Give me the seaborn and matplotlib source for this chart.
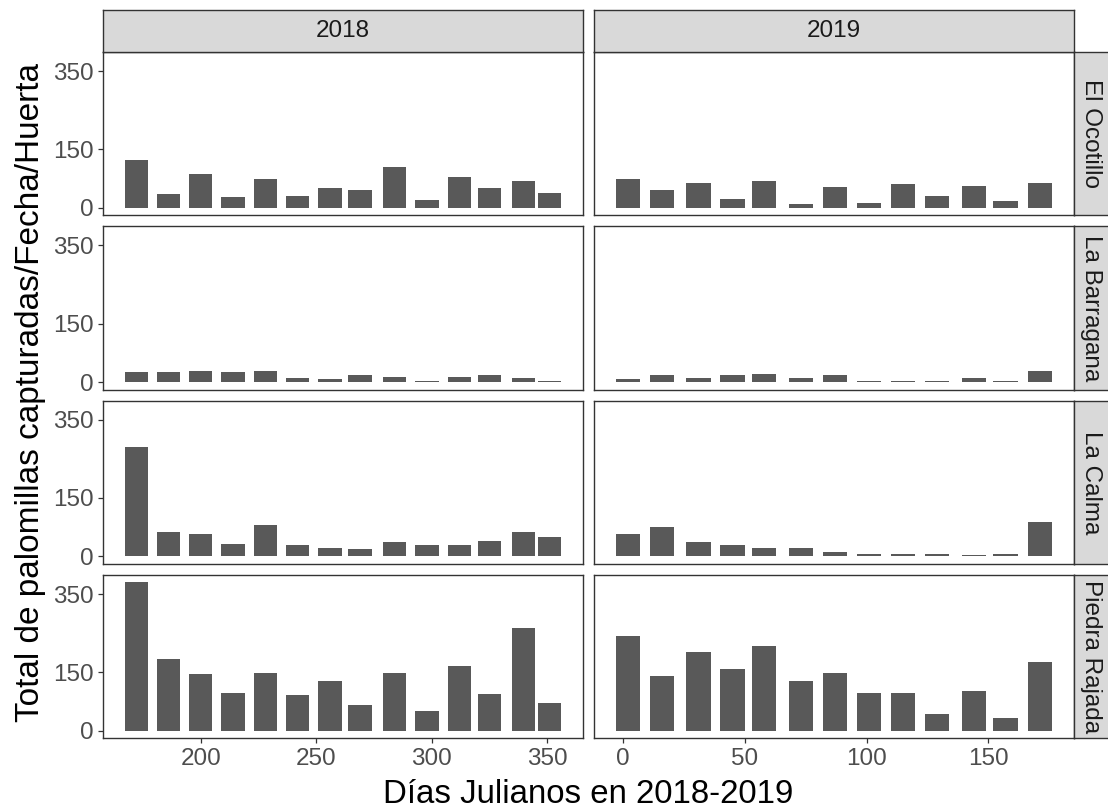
import numpy as np
import pandas as pd
import matplotlib
matplotlib.use("Agg")
import matplotlib.pyplot as plt
import seaborn as sns

# --- data -------------------------------------------------------------------
huertas = ["El Ocotillo", "La Barragana", "La Calma", "Piedra Rajada"]
anios = ["2018", "2019"]

dias_2018 = [172, 186, 200, 214, 228, 242, 256, 269, 284, 298, 312, 325, 340, 351]
dias_2019 = [2, 16, 31, 45, 58, 73, 87, 101, 115, 129, 144, 157, 171]

ocotillo_2018 = [123, 35, 87, 28, 75, 31, 51, 46, 105, 21, 80, 51, 68, 39]
ocotillo_2019 = [75, 46, 64, 24, 69, 9, 54, 13, 61, 31, 57, 17, 64]

barragana_2018 = [26, 26, 29, 26, 29, 10, 7, 18, 14, 3, 14, 18, 10, 3]
barragana_2019 = [7, 18, 10, 18, 22, 10, 18, 3, 3, 3, 10, 3, 29]

calma_2018 = [280, 62, 58, 32, 80, 29, 22, 18, 37, 29, 29, 40, 62, 51]
calma_2019 = [58, 76, 37, 29, 22, 22, 11, 7, 7, 7, 3, 7, 87]

piedra_2018 = [380, 184, 145, 97, 148, 91, 127, 65, 148, 51, 166, 94, 264, 72]
piedra_2019 = [242, 141, 202, 158, 217, 127, 148, 97, 97, 43, 101, 32, 177]

ticks_y = [0, 150, 350]
ticks_x = {"2018": [200, 250, 300, 350], "2019": [0, 50, 100, 150]}

valores = {
    ("El Ocotillo", "2018"): ocotillo_2018,
    ("El Ocotillo", "2019"): ocotillo_2019,
    ("La Barragana", "2018"): barragana_2018,
    ("La Barragana", "2019"): barragana_2019,
    ("La Calma", "2018"): calma_2018,
    ("La Calma", "2019"): calma_2019,
    ("Piedra Rajada", "2018"): piedra_2018,
    ("Piedra Rajada", "2019"): piedra_2019,
}
dias = {"2018": dias_2018, "2019": dias_2019}

filas = []
for (h, a), vals in valores.items():
    for d, v in zip(dias[a], vals):
        filas.append({"huerta": h, "anio": a, "dia": d, "total": v})
df = pd.DataFrame(filas)

# --- style ------------------------------------------------------------------
sns.set_theme(style="white")
plt.rcParams["font.family"] = ["Liberation Sans", "DejaVu Sans"]

W, H = 1108, 809
fig = plt.figure(figsize=(W / 100, H / 100), dpi=100)

BAR = "#595959"
BORDER = "#333333"
STRIP = "#D9D9D9"
BAR_DAYS = 10.0

col_x = [102.7, 593.7]
panel_w = 480.0
row_top = 52.0
panel_h = 163.3
gap = 11.0
strip_top = 10.0
strip_right = 1108.0


def fig_rect(x0, y0, w, h):
    return [x0 / W, 1 - (y0 + h) / H, w / W, h / H]


ymax = df["total"].max()
ylim = (-0.05 * ymax, 1.05 * ymax)

for i, h in enumerate(huertas):
    y0 = row_top + i * (panel_h + gap)
    for j, a in enumerate(anios):
        ax = fig.add_axes(fig_rect(col_x[j], y0, panel_w, panel_h))
        sub = df[(df["huerta"] == h) & (df["anio"] == a)]
        d = np.array(dias[a])
        min_step = np.min(np.diff(np.unique(d)))
        sns.barplot(data=sub, x="dia", y="total", native_scale=True,
                    width=BAR_DAYS / min_step, color=BAR, saturation=1,
                    errorbar=None, linewidth=0, ax=ax)
        lo = d.min() - BAR_DAYS / 2
        hi = d.max() + BAR_DAYS / 2
        pad = 0.05 * (hi - lo)
        ax.set_xlim(lo - pad, hi + pad)
        ax.set_ylim(*ylim)
        ax.set_xlabel("")
        ax.set_ylabel("")
        ax.set_facecolor("white")
        for s in ax.spines.values():
            s.set_color(BORDER)
            s.set_linewidth(1.0)
            s.set_visible(True)
        ax.set_yticks(ticks_y)
        ax.set_xticks(ticks_x[a])
        ax.tick_params(axis="both", which="both", length=3.8, width=0.9,
                       color=BORDER, labelcolor="#4D4D4D", labelsize=17.5, pad=3)
        if j == 0:
            ax.tick_params(axis="y", left=True, labelleft=True)
        else:
            ax.tick_params(axis="y", left=False, labelleft=False)
        if i == len(huertas) - 1:
            ax.tick_params(axis="x", bottom=True, labelbottom=True)
        else:
            ax.tick_params(axis="x", bottom=False, labelbottom=False)
        ax.grid(False)

        # column strips on top
        if i == 0:
            sax = fig.add_axes(fig_rect(col_x[j], strip_top, panel_w, row_top - strip_top))
            sax.set_facecolor(STRIP)
            sax.set_xticks([])
            sax.set_yticks([])
            for s in sax.spines.values():
                s.set_color(BORDER)
                s.set_linewidth(1.0)
            sax.text(0.5, 0.5, a, ha="center", va="center", fontsize=17.5,
                     color="#1A1A1A", transform=sax.transAxes)

    # row strips on the right
    rx = col_x[1] + panel_w
    rax = fig.add_axes(fig_rect(rx, y0, strip_right - rx + 20, panel_h))
    rax.set_facecolor(STRIP)
    rax.set_xticks([])
    rax.set_yticks([])
    for s in rax.spines.values():
        s.set_color(BORDER)
        s.set_linewidth(1.0)
    rax.text(17 / (strip_right - rx + 20), 0.5, h, ha="center", va="center",
             rotation=-90, fontsize=17.5, color="#1A1A1A", transform=rax.transAxes)

fig.text(39 / W, 1 - 393 / H, "Total de palomillas capturadas/Fecha/Huerta",
         rotation=90, rotation_mode="anchor", ha="center", va="baseline",
         fontsize=24, color="black")
fig.text((col_x[0] + col_x[1] + panel_w) / 2 / W, 1 - 803 / H,
         "Días Julianos en 2018-2019", ha="center", va="baseline",
         fontsize=23.8, color="black")

fig.savefig("out.png", dpi=100, facecolor="white")
